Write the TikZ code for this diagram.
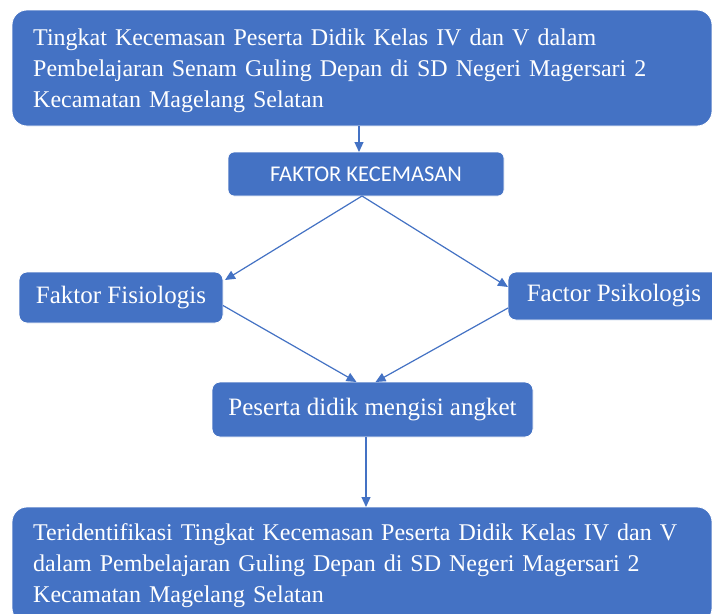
\documentclass[tikz,border=0pt]{standalone}
\usepackage{fontspec}
\setmainfont{Liberation Serif}
\newfontfamily\calibrifont{Carlito}
\usetikzlibrary{arrows.meta,calc}
\definecolor{boxblue}{HTML}{4472C4}
\definecolor{lineblue}{HTML}{4472C4}
\begin{document}
\begin{tikzpicture}[x=1pt,y=-1pt,
  box/.style={fill=boxblue, draw=white, line width=0.8pt, text=white, inner sep=0pt, outer sep=0pt},
  bigbox/.style={box, rounded corners=15pt, minimum width=700pt, minimum height=116pt},
  bigtext/.style={text=white, inner sep=0pt, anchor=north west, text width=676pt, align=left,
    font=\fontsize{24}{31}\selectfont},
  smallbox/.style={box, rounded corners=8pt, align=center, font=\fontsize{25}{30}\selectfont},
  arr/.style={draw=lineblue, line width=1.2pt, -{Triangle[length=10pt,width=9pt]}}]
\path[use as bounding box, clip] (0,0) rectangle (712,613);
\fill[white] (0,0) rectangle (712,613);

\node[bigbox] (top) at (362,68) {};
\node[bigtext] (toptext) at (33,28.6) {Tingkat Kecemasan Peserta Didik Kelas IV dan V dalam\\
Pembelajaran Senam Guling Depan di SD Negeri Magersari 2\\
Kecamatan Magelang Selatan};

\node[box, rounded corners=6pt, minimum width=276pt, minimum height=44pt,
  font=\calibrifont\fontsize{22.5}{26}\selectfont] (faktor) at (366,174) {FAKTOR KECEMASAN};

\node[smallbox, minimum width=204pt, minimum height=51pt] (fis) at (121,297.5) {Faktor Fisiologis};
\node[smallbox, minimum width=212pt, minimum height=48pt] (psi) at (614,296) {Factor Psikologis};
\node[smallbox, minimum width=321pt, minimum height=55pt] (pes) at (372.5,409.5) {Peserta didik mengisi angket};

\node[bigbox] (bot) at (362,565) {};
\node[bigtext] (bottext) at (33,523.6) {Teridentifikasi Tingkat Kecemasan Peserta Didik Kelas IV dan V\\
dalam Pembelajaran Guling Depan di SD Negeri Magersari 2\\
Kecamatan Magelang Selatan};

\coordinate (xa) at (359,0);
\coordinate (xb) at (366,0);

\draw[arr] (top.south -| xa) -- (faktor.north -| xa);
\draw[arr] ($(faktor.south)+(-4,0)$) -- ($(fis.north east)+(2,8)$);
\draw[arr] ($(faktor.south)+(-4,0)$) -- ($(psi.west)+(0,-9)$);
\draw[arr] ($(fis.east)+(0,8)$) -- ($(pes.north)+(-16,0)$);
\draw[arr] ($(psi.west)+(0,12)$) -- ($(pes.north)+(3,0)$);
\draw[arr] (pes.south -| xb) -- (bot.north -| xb);
\end{tikzpicture}
\end{document}
